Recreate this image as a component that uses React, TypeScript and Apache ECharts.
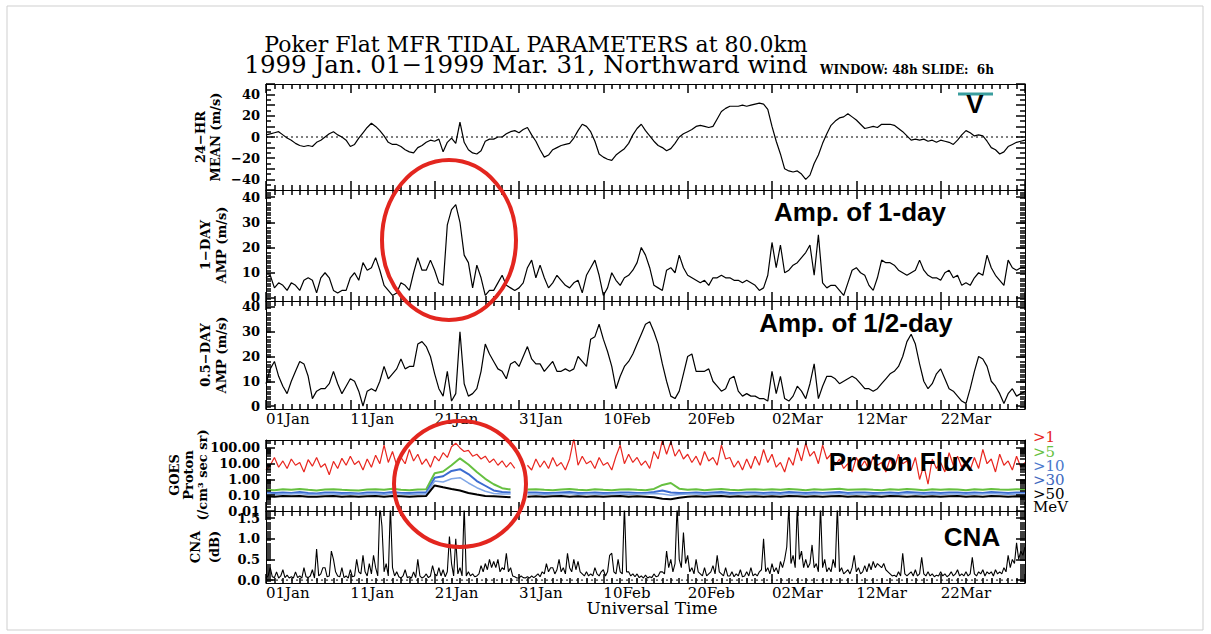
import React, { useEffect, useRef } from 'react';
import * as echarts from 'echarts';

// ---------- DATA ----------
const xTickLabels = ['01Jan', '11Jan', '21Jan', '31Jan', '10Feb', '20Feb', '02Mar', '12Mar', '22Mar', ''];
const zeroRef = [[0, 0], [90, 0]];

// 24-HR mean northward wind (m/s), every 12 h from 01 Jan
const meanWind = [
  2, 3, 4, 5, 2, -1, -3, -6, -8, -9,
  -8, -9, -5, -3, 0, 3, 5, 2, 0, -3,
  -9, -7, -1, 4, 9, 13, 10, 6, 1, -5,
  -7, -7, -9, -12, -14, -15, -10, -8, -5, -3,
  -4, -2, -14, -5, -1, -6, 14, -5, -12, -15,
  -16, -13, -4, -2, -2, 0, 0, 3, 5, 6,
  4, 7, 9, 2, -4, -12, -19, -17, -12, -10,
  -8, -7, -6, -1, 6, 12, 10, 5, -4, -16,
  -19, -21, -22, -17, -14, -11, -6, 2, 8, 12,
  6, 1, -4, -8, -10, -13, -11, -6, 0, 3,
  5, 7, 10, 11, 10, 9, 10, 17, 24, 27,
  29, 29, 29, 30, 29, 30, 31, 32, 31, 26,
  10, -4, -16, -30, -32, -33, -32, -35, -40, -36,
  -25, -17, -6, 3, 11, 15, 18, 19, 22, 19,
  16, 12, 8, 9, 10, 9, 12, 12, 12, 11,
  8, 5, 1, -3, -2, -3, -2, -4, -3, -5,
  -3, -4, -5, -7, -3, 2, 6, 4, 1, 2,
  1, -4, -10, -12, -16, -14, -9, -7, -5, -4,
  -3,
];

// 1-day tide amplitude (m/s), every 12 h
const amp1Day = [
  8, 9, 4, 6, 5, 3, 6, 5, 3, 7,
  8, 7, 2, 8, 10, 8, 3, 2, 3, 3,
  8, 10, 7, 14, 11, 12, 16, 11, 5, 3,
  1, 2, 6, 5, 3, 10, 16, 11, 11, 15,
  11, 6, 5, 29, 35, 37, 30, 17, 14, 4,
  13, 8, 1, 3, 3, 6, 9, 5, 4, 3,
  4, 6, 12, 15, 8, 13, 8, 4, 6, 9,
  7, 5, 4, 6, 7, 2, 9, 12, 15, 9,
  1, 4, 10, 7, 5, 8, 9, 11, 14, 20,
  17, 12, 5, 4, 3, 11, 12, 10, 17, 12,
  9, 8, 7, 6, 7, 5, 8, 8, 9, 8,
  8, 7, 7, 6, 7, 6, 5, 3, 4, 9,
  22, 12, 21, 10, 11, 13, 14, 16, 18, 21,
  9, 25, 6, 4, 5, 5, 3, 1, 6, 11,
  12, 10, 9, 5, 3, 8, 15, 14, 14, 13,
  11, 10, 9, 10, 11, 15, 11, 9, 8, 8,
  7, 10, 11, 8, 9, 5, 6, 5, 8, 10,
  9, 17, 12, 9, 7, 5, 15, 12, 11, 12,
  12,
];

// 0.5-day tide amplitude (m/s), every 12 h
const amp12Day = [
  9, 15, 18, 12, 8, 5, 10, 14, 18, 17,
  12, 3, 6, 7, 7, 9, 14, 9, 5, 8,
  11, 10, 6, 0, 6, 7, 6, 10, 16, 11,
  13, 15, 19, 15, 16, 16, 25, 26, 24, 20,
  13, 7, 4, 14, 2, 5, 30, 9, 4, 5,
  7, 14, 25, 21, 18, 15, 14, 11, 17, 18,
  16, 20, 24, 19, 17, 17, 14, 16, 18, 14,
  14, 15, 14, 15, 20, 18, 16, 27, 28, 33,
  27, 22, 16, 7, 12, 16, 18, 21, 25, 29,
  33, 34, 30, 25, 17, 10, 4, 3, 6, 13,
  20, 21, 14, 14, 14, 15, 10, 8, 6, 7,
  11, 12, 6, 4, 5, 4, 4, 3, 3, 2,
  14, 5, 12, 3, 2, 4, 8, 6, 3, 9,
  17, 3, 8, 12, 12, 11, 9, 10, 11, 12,
  11, 9, 7, 7, 6, 7, 9, 11, 13, 14,
  16, 20, 26, 29, 25, 17, 10, 7, 9, 13,
  15, 11, 7, 6, 4, 2, 1, 7, 14, 20,
  19, 16, 10, 8, 5, 1, 5, 7, 4, 5,
  6,
];

// GOES proton flux >1 MeV, every 12 h (null = data gap)
const flux1 = [
  4, 8, 25, 6, 15, 5, 20, 8, 12, 3,
  18, 7, 25, 6, 10, 2, 14, 5, 22, 8,
  30, 9, 15, 4, 20, 6, 35, 10, 150, 12,
  60, 8, 25, 10, 80, 15, 40, 9, 20, 6,
  30, 15, 50, 25, 120, 200, 100, 60, 70, 30,
  40, 20, 30, 12, 20, 8, 15, 6, 12, 5,
  null, null, 8, 4, 20, 6, 15, 5, 25, 7,
  12, 4, 20, 400, 8, 30, 10, 15, 5, 25,
  8, 12, 4, 30, 150, 10, 40, 12, 25, 8,
  15, 5, 60, 20, 300, 40, 250, 30, 80, 20,
  40, 12, 30, 8, 60, 15, 25, 8, 150, 20,
  25, 6, 15, 4, 20, 5, 30, 8, 80, 12,
  40, 6, 12, 3, 25, 8, 100, 15, 200, 30,
  60, 10, 150, 20, 40, 8, 20, 5, 10, 3,
  25, 6, 15, 4, 30, 8, 12, 3, 20, 5,
  40, 10, 15, 4, 25, 1, 8, 0.5, 20, 5,
  12, 3, 50, 8, 30, 6, 15, 4, 25, 5,
  80, 10, 20, 3, 40, 8, 15, 4, 30, 6,
  12,
];

// >5 MeV, daily
const flux5 = [
  0.22, 0.21, 0.24, 0.22, 0.25, 0.22, 0.2, 0.23, 0.24, 0.22,
  0.21, 0.2, 0.23, 0.24, 0.22, 0.26, 0.22, 0.21, 0.23, 0.24,
  2.5, 3.2, 8, 22, 9, 3, 1.1, 0.5, 0.28, 0.23,
  null, 0.23, 0.24, 0.22, 0.21, 0.23, 0.25, 0.22, 0.21, 0.24,
  0.22, 0.21, 0.23, 0.24, 0.22, 0.21, 0.25, 0.45, 0.6, 0.26,
  0.22, 0.24, 0.21, 0.23, 0.25, 0.22, 0.21, 0.23, 0.24, 0.22,
  0.24, 0.22, 0.25, 0.23, 0.21, 0.24, 0.22, 0.24, 0.26, 0.22,
  0.23, 0.24, 0.22, 0.21, 0.24, 0.22, 0.25, 0.23, 0.21, 0.24,
  0.22, 0.24, 0.23, 0.21, 0.24, 0.22, 0.25, 0.23, 0.22, 0.24,
  0.23,
];

// >10 MeV, daily
const flux10 = [
  0.15, 0.14, 0.15, 0.14, 0.16, 0.14, 0.13, 0.15, 0.15, 0.14,
  0.14, 0.13, 0.15, 0.15, 0.14, 0.16, 0.14, 0.14, 0.15, 0.15,
  1.3, 1.6, 3.5, 4.5, 2.2, 0.8, 0.4, 0.2, 0.16, 0.15,
  null, 0.15, 0.15, 0.14, 0.14, 0.15, 0.16, 0.14, 0.14, 0.15,
  0.14, 0.14, 0.15, 0.15, 0.14, 0.14, 0.16, 0.2, 0.15, 0.14,
  0.14, 0.15, 0.14, 0.15, 0.16, 0.14, 0.14, 0.15, 0.15, 0.14,
  0.15, 0.14, 0.16, 0.15, 0.14, 0.15, 0.14, 0.15, 0.16, 0.14,
  0.15, 0.15, 0.14, 0.14, 0.15, 0.14, 0.16, 0.15, 0.14, 0.15,
  0.14, 0.15, 0.15, 0.14, 0.15, 0.14, 0.16, 0.15, 0.14, 0.15,
  0.15,
];

// >30 MeV, daily
const flux30 = [
  0.12, 0.11, 0.12, 0.12, 0.13, 0.11, 0.11, 0.12, 0.12, 0.11,
  0.12, 0.11, 0.12, 0.12, 0.11, 0.13, 0.12, 0.11, 0.12, 0.12,
  0.8, 0.7, 1.1, 1.3, 0.6, 0.3, 0.18, 0.13, 0.12, 0.12,
  null, 0.12, 0.12, 0.11, 0.12, 0.12, 0.13, 0.11, 0.12, 0.12,
  0.11, 0.12, 0.12, 0.11, 0.12, 0.12, 0.13, 0.12, 0.1, 0.11,
  0.12, 0.12, 0.11, 0.12, 0.13, 0.11, 0.12, 0.12, 0.12, 0.11,
  0.12, 0.11, 0.13, 0.12, 0.11, 0.12, 0.12, 0.12, 0.13, 0.11,
  0.12, 0.12, 0.11, 0.12, 0.12, 0.11, 0.13, 0.12, 0.11, 0.12,
  0.11, 0.12, 0.12, 0.11, 0.12, 0.12, 0.13, 0.12, 0.11, 0.12,
  0.12,
];

// >50 MeV, daily
const flux50 = [
  0.085, 0.08, 0.09, 0.085, 0.09, 0.08, 0.08, 0.085, 0.09, 0.08,
  0.085, 0.08, 0.085, 0.09, 0.08, 0.09, 0.085, 0.08, 0.085, 0.09,
  0.42, 0.32, 0.25, 0.2, 0.14, 0.11, 0.09, 0.085, 0.08, 0.075,
  null, 0.08, 0.085, 0.08, 0.085, 0.09, 0.08, 0.085, 0.08, 0.085,
  0.08, 0.085, 0.09, 0.08, 0.085, 0.08, 0.075, 0.06, 0.055, 0.07,
  0.08, 0.085, 0.08, 0.085, 0.09, 0.08, 0.085, 0.08, 0.085, 0.08,
  0.085, 0.08, 0.09, 0.085, 0.08, 0.085, 0.08, 0.085, 0.09, 0.08,
  0.085, 0.08, 0.085, 0.08, 0.09, 0.085, 0.08, 0.085, 0.08, 0.085,
  0.08, 0.085, 0.09, 0.08, 0.085, 0.08, 0.09, 0.085, 0.08, 0.085,
  0.08,
];

// CNA (dB), every 6 h
const cna = [
  0.05, 0.1, 0.3, 0.08, 0.06, 0.2, 0.05, 0.1, 0.25, 0.06, 0.12, 0.05, 0.08, 0.05, 0.2, 0.06, 0.1, 0.05, 0.3, 0.08,
  0.06, 0.1, 0.25, 0.05, 0.75, 0.1, 0.15, 0.3, 0.3, 0.08, 0.1, 0.7, 0.5, 0.2, 0.1, 0.08, 0.3, 0.06, 0.1, 0.05,
  0.25, 0.08, 0.1, 0.5, 0.2, 0.15, 0.6, 0.2, 0.1, 0.4, 0.15, 0.6, 0.3, 0.1, 1.8, 1.3, 0.2, 0.4, 0.1, 1.8,
  0.3, 0.1, 0.2, 0.08, 0.05, 0.1, 0.25, 0.06, 0.08, 0.05, 0.2, 0.06, 0.5, 0.1, 0.05, 0.08, 0.15, 0.06, 0.1, 0.35,
  0.15, 0.1, 0.3, 0.1, 0.25, 0.08, 0.2, 1.05, 0.4, 0.1, 1.0, 0.15, 0.3, 0.1, 1.8, 0.1, 0.2, 0.1, 0.15, 0.08,
  0.1, 0.15, 0.35, 0.2, 0.4, 0.25, 0.5, 0.3, 0.45, 0.3, 0.5, 0.2, 0.3, 0.25, 0.65, 0.2, 0.3, 0.1, 0.08, 0.05,
  0.05, 0.1, 0.06, 0.05, 0.08, 0.05, 0.1, 0.06, 0.1, 0.15, 0.08, 0.2, 0.15, 0.4, 0.2, 0.3, 0.3, 0.15, 0.25, 0.5,
  0.2, 0.3, 0.15, 0.65, 0.3, 0.2, 0.5, 0.25, 0.45, 0.2, 0.15, 0.1, 0.2, 0.1, 0.15, 0.1, 0.3, 0.15, 0.1, 0.2,
  0.25, 0.1, 0.2, 0.6, 0.65, 0.2, 0.15, 0.5, 0.2, 0.15, 1.8, 0.2, 0.2, 0.1, 0.15, 0.08, 0.15, 0.06, 0.1, 0.05,
  0.12, 0.05, 0.08, 0.06, 0.15, 0.08, 0.1, 0.2, 0.2, 0.15, 0.7, 0.3, 0.5, 0.2, 0.4, 1.8, 0.5, 0.3, 1.15, 0.4,
  0.6, 0.2, 0.3, 0.15, 0.5, 0.2, 0.15, 0.1, 0.3, 0.1, 0.15, 0.2, 0.35, 0.15, 0.6, 0.2, 0.15, 0.1, 0.3, 0.1,
  0.1, 0.2, 0.08, 0.15, 0.1, 0.25, 0.08, 0.1, 0.2, 0.1, 0.3, 0.1, 0.15, 0.1, 0.2, 0.25, 1.0, 0.2, 0.3, 0.15,
  0.4, 0.2, 0.3, 0.15, 0.45, 0.3, 0.5, 0.8, 1.8, 0.4, 0.6, 0.3, 1.8, 0.5, 0.7, 0.3, 0.5, 0.3, 0.4, 0.85,
  0.3, 0.4, 0.2, 1.8, 0.3, 0.5, 0.2, 0.3, 0.2, 0.5, 0.3, 1.8, 0.2, 0.3, 0.15, 0.2, 0.25, 0.15, 0.3, 0.6,
  0.2, 0.3, 0.15, 0.2, 0.35, 0.2, 0.4, 0.25, 0.45, 0.3, 0.4, 0.35, 0.3, 0.4, 0.25, 0.2, 0.15, 0.1, 0.12, 0.08,
  0.2, 0.1, 0.65, 0.15, 0.1, 0.15, 0.2, 0.1, 0.25, 0.1, 0.15, 0.55, 0.15, 0.1, 0.2, 0.1, 0.15, 0.08, 0.12, 0.1,
  0.2, 0.1, 0.15, 0.08, 0.12, 0.2, 0.1, 0.15, 0.25, 0.1, 0.15, 0.1, 0.2, 0.1, 0.15, 0.55, 0.15, 0.1, 0.2, 0.15,
  0.25, 0.1, 0.2, 0.15, 0.2, 0.1, 0.25, 0.15, 0.2, 0.15, 0.3, 0.2, 0.6, 0.3, 0.5, 0.4, 0.9, 0.5, 0.7, 0.6,
  0.8,
];

// ---------- LAYOUT / STYLE ----------
const SERIF = "'DejaVu Serif', serif";
const SANS = "'Liberation Sans', Arial, sans-serif";
const GL = 266;
const GW = 759;
const panels = [
  { top: 84, h: 106 },
  { top: 190, h: 111 },
  { top: 301, h: 108 },
  { top: 440, h: 71 },
  { top: 511, h: 72 },
];

const yCfg: any[] = [
  { type: 'value', min: -50, max: 50, interval: 10, split: 2, majors: [-40, -20, 0, 20, 40], tickCustom: false, fmt: (v: number) => String(v).replace('-', '\u2212') },
  { type: 'value', min: -1.2, max: 42.8, interval: 10, split: 10, majors: [0, 10, 20, 30, 40], tickCustom: true, fmt: (v: number) => String(v) },
  { type: 'value', min: -1.2, max: 42.4, interval: 10, split: 10, majors: [0, 10, 20, 30, 40], tickCustom: true, fmt: (v: number) => String(v) },
  { type: 'log', min: 0.01, max: 320, interval: undefined, split: 9, majors: [0.01, 0.1, 1, 10, 100], tickCustom: true, fmt: (v: number) => v.toFixed(2) },
  { type: 'value', min: -0.07, max: 1.67, interval: 0.5, split: 10, majors: [0, 0.5, 1, 1.5], tickCustom: true, fmt: (v: number) => v.toFixed(1) },
];

function pairs(arr: (number | null)[], step: number) {
  return arr.map((v, i) => [i * step, v == null ? '-' : v]);
}

export default function App() {
  const ref = useRef<HTMLDivElement>(null);
  useEffect(() => {
    if (!ref.current) return;
    const chart = echarts.init(ref.current, undefined, { renderer: 'svg' });

    const grid = panels.map((p) => ({ left: GL, top: p.top, width: GW, height: p.h }));
    const line = { show: true, onZero: false, lineStyle: { color: '#000', width: 1 } };
    const tickStyle = { color: '#000', width: 1.5 };

    const xAxis: any[] = [];
    panels.forEach((_, g) => {
      ['bottom', 'top'].forEach((pos) => {
        const labelled = pos === 'bottom' && (g === 2 || g === 4);
        xAxis.push({
          gridIndex: g, type: 'value', min: 0, max: 90, interval: 10, position: pos, z: 10,
          axisLine: line,
          axisTick: { show: true, inside: true, length: 9, lineStyle: tickStyle },
          minorTick: { show: true, splitNumber: 10, length: 5, lineStyle: tickStyle },
          splitLine: { show: false },
          axisLabel: {
            show: labelled, align: 'left', margin: 2,
            color: '#000', fontFamily: SERIF, fontSize: 15,
            formatter: (v: number) => xTickLabels[Math.round(v / 10)] ?? '',
          },
        });
      });
    });

    const yAxis: any[] = [];
    yCfg.forEach((c, g) => {
      ['left', 'right'].forEach((pos) => {
        const labelled = pos === 'left';
        const ax: any = {
          gridIndex: g, type: c.type, min: c.min, max: c.max, position: pos, z: 10,
          axisLine: line,
          splitLine: { show: false },
          axisTick: { show: true, inside: true, length: 9, lineStyle: tickStyle },
          minorTick: { show: true, splitNumber: c.split, length: 5, lineStyle: tickStyle },
          axisLabel: {
            show: labelled, customValues: c.majors, margin: 6,
            color: '#000', fontFamily: SERIF, fontSize: 13, fontWeight: 'bold',
            formatter: c.fmt,
          },
        };
        if (c.interval !== undefined) ax.interval = c.interval;
        if (c.tickCustom) ax.axisTick.customValues = c.majors;
        yAxis.push(ax);
      });
    });

    const blackLine = (data: any[], g: number, extra: any = {}) => ({
      type: 'line', xAxisIndex: g * 2, yAxisIndex: g * 2, data,
      showSymbol: false, symbol: 'none', clip: true,
      lineStyle: { color: '#000', width: 1.2 }, ...extra,
    });
    const dotted = (g: number) => ({
      type: 'line', xAxisIndex: g * 2, yAxisIndex: g * 2, data: zeroRef,
      showSymbol: false, symbol: 'none', silent: true,
      lineStyle: { color: '#000', width: 1, type: [2, 3] },
    });
    const fluxLine = (data: any[], color: string, width: number) => ({
      type: 'line', xAxisIndex: 6, yAxisIndex: 6, data,
      showSymbol: false, symbol: 'none', clip: true, connectNulls: false,
      lineStyle: { color, width },
    });

    const series: any[] = [
      dotted(0),
      blackLine(pairs(meanWind, 0.5), 0),
      blackLine(pairs(amp1Day, 0.5), 1),
      blackLine(pairs(amp12Day, 0.5), 2),
      fluxLine(pairs(flux1, 0.5), '#e8261f', 1.2),
      fluxLine(pairs(flux5, 1), '#66c040', 2),
      fluxLine(pairs(flux10, 1), '#3c6cd0', 2),
      fluxLine(pairs(flux30, 1), '#7fa6e6', 1.5),
      fluxLine(pairs(flux50, 1), '#000', 2),
      dotted(4),
      blackLine(pairs(cna, 0.25), 4, { lineStyle: { color: '#000', width: 1.1 } }),
    ];

    const txt = (text: string, x: number, y: number, o: any = {}) => ({
      type: 'text', x, y, rotation: o.rotation || 0, z: 100,
      style: {
        text, fill: o.fill || '#000', fontFamily: o.fontFamily || SERIF,
        fontSize: o.fontSize || 13, fontWeight: o.fontWeight || 'normal',
        align: o.align || 'center', verticalAlign: 'middle',
      },
    });
    const vt = (text: string, x: number, y: number) => txt(text, x, y, { rotation: Math.PI / 2, fontSize: 13, fontWeight: 'bold' });
    const big = (text: string, x: number, y: number) => txt(text, x, y, { fontFamily: SANS, fontSize: 26, fontWeight: 'bold' });

    const graphic: any[] = [
      { type: 'rect', shape: { x: 7, y: 6, width: 1196, height: 624 }, style: { fill: 'none', stroke: '#cfcfcf', lineWidth: 1 }, z: 100 },
      txt('Poker Flat MFR TIDAL PARAMETERS at 80.0km', 536, 44, { fontSize: 22 }),
      txt('1999 Jan. 01\u22121999 Mar. 31, Northward wind', 526, 64, { fontSize: 24.5 }),
      txt('WINDOW: 48h SLIDE:  6h', 820, 70, { fontSize: 12, fontWeight: 'bold', align: 'left' }),
      txt('Universal Time', 652, 608, { fontSize: 17 }),
      vt('24\u2212HR', 200, 137), vt('MEAN (m/s)', 215, 137),
      vt('1\u2212DAY', 205, 245), vt('AMP (m/s)', 221, 245),
      vt('0.5\u2212DAY', 205, 355), vt('AMP (m/s)', 221, 355),
      vt('GOES', 174, 475), vt('Proton', 188, 475), vt('(/cm\u00b3 sec sr)', 202, 475),
      vt('CNA', 195, 547), vt('(dB)', 214, 547),
      { type: 'line', shape: { x1: 958, y1: 94, x2: 993, y2: 94 }, style: { stroke: '#3a9e9e', lineWidth: 3 }, z: 100 },
      big('V', 975, 104),
      big('Amp. of 1-day', 860, 212),
      big('Amp. of 1/2-day', 856, 323),
      big('Proton Flux', 901, 462),
      big('CNA', 972, 537),
      txt('>1', 1033, 437, { fontSize: 15, align: 'left', fill: '#e8261f' }),
      txt('>5', 1033, 452, { fontSize: 15, align: 'left', fill: '#66c040' }),
      txt('>10', 1033, 466, { fontSize: 15, align: 'left', fill: '#4a78cc' }),
      txt('>30', 1033, 480, { fontSize: 15, align: 'left', fill: '#3e68c0' }),
      txt('>50', 1033, 494, { fontSize: 15, align: 'left', fill: '#000' }),
      txt('MeV', 1033, 507, { fontSize: 15, align: 'left', fill: '#000' }),
      { type: 'ellipse', shape: { cx: 449, cy: 240, rx: 67, ry: 80 }, style: { fill: 'none', stroke: '#e3261f', lineWidth: 4 }, z: 100 },
      { type: 'ellipse', shape: { cx: 460, cy: 484, rx: 66, ry: 63 }, style: { fill: 'none', stroke: '#e3261f', lineWidth: 4 }, z: 100 },
    ];

    chart.setOption({ animation: false, grid, xAxis, yAxis, series, graphic });
    return () => chart.dispose();
  }, []);

  return <div ref={ref} style={{ position: 'absolute', left: 0, top: 0, width: 1211, height: 634 }} />;
}
